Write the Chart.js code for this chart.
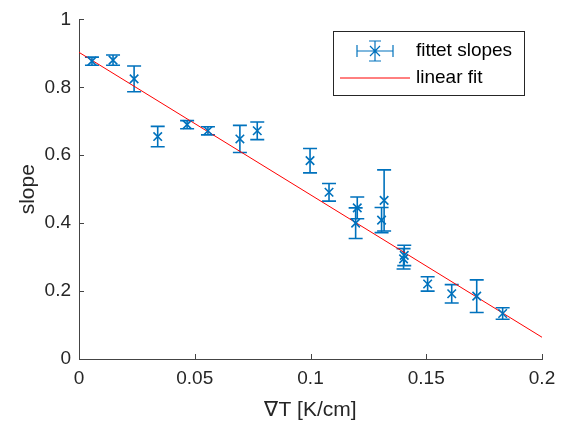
<!DOCTYPE html>
<html>
<head>
<meta charset="utf-8">
<script src="https://cdn.jsdelivr.net/npm/chart.js@4"></script>
<style>
  html, body { margin: 0; padding: 0; background: #fff; }
  #wrap { width: 563px; height: 428px; }
</style>
</head>
<body>
<div id="wrap"><canvas id="chart" width="563" height="428"></canvas></div>
<script>
const gradT = [0.0056, 0.0147, 0.0238, 0.034, 0.0467, 0.0557, 0.0695, 0.077, 0.0998, 0.108,
  0.1202, 0.1195, 0.1307, 0.1318, 0.1405, 0.1402, 0.1506, 0.161, 0.1718, 0.183];
const slopes = [0.877, 0.88, 0.825, 0.655, 0.69, 0.672, 0.648, 0.672, 0.584, 0.491,
  0.445, 0.40, 0.409, 0.467, 0.305, 0.295, 0.221, 0.192, 0.185, 0.134];
const slopeErr = [0.012, 0.015, 0.038, 0.03, 0.012, 0.012, 0.04, 0.026, 0.036, 0.026,
  0.032, 0.045, 0.037, 0.09, 0.03, 0.03, 0.021, 0.027, 0.048, 0.017];
const fitX = [0, 0.2];
const fitY = [0.903, 0.064];
const xTicks = [0, 0.05, 0.1, 0.15, 0.2];
const yTicks = [0, 0.2, 0.4, 0.6, 0.8, 1];

const blue = '#0072BD';
const red = '#FF0000';
const axisColor = '#444444';
const fontFam = '"Liberation Sans", Arial, sans-serif';
const fmt = v => String(+Number(v).toFixed(2));

// vertical error bars with caps, drawn through the scales
const errorBars = {
  id: 'errorBars',
  beforeDatasetsDraw(chart) {
    const { ctx, scales: { x, y } } = chart;
    ctx.save();
    ctx.strokeStyle = blue;
    ctx.lineWidth = 1.6;
    gradT.forEach((gx, i) => {
      const px = x.getPixelForValue(gx);
      const top = y.getPixelForValue(slopes[i] + slopeErr[i]);
      const bot = y.getPixelForValue(slopes[i] - slopeErr[i]);
      ctx.beginPath();
      ctx.moveTo(px, top); ctx.lineTo(px, bot);
      ctx.moveTo(px - 7, top); ctx.lineTo(px + 7, top);
      ctx.moveTo(px - 7, bot); ctx.lineTo(px + 7, bot);
      ctx.stroke();
    });
    ctx.restore();
  }
};

// inward tick marks on the two axes
const innerTicks = {
  id: 'innerTicks',
  afterDraw(chart) {
    const { ctx, chartArea: a, scales: { x, y } } = chart;
    ctx.save();
    ctx.strokeStyle = axisColor;
    ctx.lineWidth = 1;
    ctx.beginPath();
    xTicks.forEach(v => {
      const px = Math.round(x.getPixelForValue(v)) + 0.5;
      ctx.moveTo(px, a.bottom); ctx.lineTo(px, a.bottom - 5);
    });
    yTicks.forEach(v => {
      const py = Math.round(y.getPixelForValue(v)) + 0.5;
      ctx.moveTo(a.left, py); ctx.lineTo(a.left + 5, py);
    });
    ctx.stroke();
    ctx.restore();
  }
};

// legend box inside the axes, top right
const boxLegend = {
  id: 'boxLegend',
  afterDraw(chart) {
    const ctx = chart.ctx;
    const bx = 333, by = 31, bw = 191, bh = 64;
    ctx.save();
    ctx.fillStyle = '#fff';
    ctx.fillRect(bx, by, bw, bh);
    ctx.strokeStyle = '#262626';
    ctx.lineWidth = 1;
    ctx.strokeRect(bx + 0.5, by + 0.5, bw, bh);

    // errorbar symbol
    const cx = 375, cy = 51;
    ctx.strokeStyle = blue;
    ctx.lineWidth = 1.2;
    ctx.beginPath();
    ctx.moveTo(cx - 18, cy); ctx.lineTo(cx + 18, cy);
    ctx.moveTo(cx - 18, cy - 6); ctx.lineTo(cx - 18, cy + 6);
    ctx.moveTo(cx + 18, cy - 6); ctx.lineTo(cx + 18, cy + 6);
    ctx.moveTo(cx, cy - 10); ctx.lineTo(cx, cy + 10);
    ctx.moveTo(cx - 6, cy - 10); ctx.lineTo(cx + 6, cy - 10);
    ctx.moveTo(cx - 6, cy + 10); ctx.lineTo(cx + 6, cy + 10);
    ctx.moveTo(cx - 5, cy - 5); ctx.lineTo(cx + 5, cy + 5);
    ctx.moveTo(cx - 5, cy + 5); ctx.lineTo(cx + 5, cy - 5);
    ctx.stroke();

    ctx.strokeStyle = red;
    ctx.lineWidth = 1;
    ctx.beginPath();
    ctx.moveTo(340, 78); ctx.lineTo(410, 78);
    ctx.stroke();

    ctx.fillStyle = '#000';
    ctx.font = '19px ' + fontFam;
    ctx.textBaseline = 'middle';
    ctx.fillText('fittet slopes', 416, 51);
    ctx.fillText('linear fit', 416, 78);
    ctx.restore();
  }
};

new Chart(document.getElementById('chart'), {
  type: 'scatter',
  data: {
    datasets: [
      {
        label: 'fittet slopes',
        data: gradT.map((gx, i) => ({ x: gx, y: slopes[i] })),
        pointStyle: 'crossRot',
        pointRadius: 6,
        pointBorderWidth: 1.6,
        borderColor: blue,
        backgroundColor: blue,
        order: 1
      },
      {
        label: 'linear fit',
        type: 'line',
        data: fitX.map((fx, i) => ({ x: fx, y: fitY[i] })),
        borderColor: red,
        borderWidth: 1,
        pointRadius: 0,
        fill: false,
        order: 2
      }
    ]
  },
  options: {
    responsive: false,
    animation: false,
    layout: { padding: { top: 17, right: 21, left: 0, bottom: 0 } },
    plugins: { legend: { display: false }, tooltip: { enabled: false } },
    scales: {
      x: {
        type: 'linear',
        min: 0, max: 0.2,
        afterFit: s => { s.height = 69; s.paddingRight = 0; },
        afterBuildTicks: s => { s.ticks = xTicks.map(v => ({ value: v })); },
        grid: { display: false, drawTicks: false },
        border: { display: true, color: axisColor, width: 1 },
        ticks: { color: '#262626', padding: 8, callback: fmt, font: { family: fontFam, size: 19 } },
        title: { display: true, text: '∇T [K/cm]', color: '#262626', padding: { top: 0, bottom: 5 }, font: { family: fontFam, size: 21 } }
      },
      y: {
        type: 'linear',
        min: 0, max: 1,
        afterFit: s => { s.width = 79; },
        afterBuildTicks: s => { s.ticks = yTicks.map(v => ({ value: v })); },
        grid: { display: false, drawTicks: false },
        border: { display: true, color: axisColor, width: 1 },
        ticks: { color: '#262626', padding: 8, callback: fmt, font: { family: fontFam, size: 19 } },
        title: { display: true, text: 'slope', color: '#262626', padding: { top: 16, bottom: 0 }, font: { family: fontFam, size: 21 } }
      }
    }
  },
  plugins: [errorBars, innerTicks, boxLegend]
});
</script>
</body>
</html>
